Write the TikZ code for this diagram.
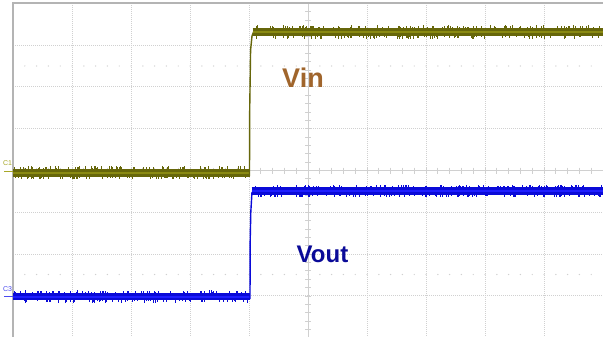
\documentclass[tikz,border=0pt]{standalone}
\usepackage{fontspec}
\setmainfont{Liberation Sans}
\definecolor{gridc}{HTML}{D0D0D0}
\definecolor{bordc}{HTML}{B4B4B4}
\definecolor{vinc}{HTML}{66660A}
\definecolor{vinhi}{HTML}{8A8A12}
\definecolor{voc}{HTML}{0A0AD8}
\definecolor{vohi}{HTML}{1E1EFF}
\definecolor{vinlab}{HTML}{A0652C}
\definecolor{voutlab}{HTML}{0A0A98}
\definecolor{cone}{HTML}{A8A828}
\definecolor{cthree}{HTML}{4A4AF0}
\tikzset{
  gridline/.style={gridc, line width=1pt, dash pattern=on 1pt off 1pt},
  centerline/.style={gridc, line width=0.8pt},
  txtlabel/.style={inner sep=0pt, font=\bfseries\fontsize{#1}{#1}\selectfont},
  chmark/.style={inner sep=0pt, font=\fontsize{7}{7}\selectfont},
  spike/.style={line width=0.5pt}
}
\begin{document}
\begin{tikzpicture}[x=1pt,y=-1pt]
\fill[white] (0,0) rectangle (603,337);
\useasboundingbox (0,0) rectangle (603,337);
\pgfmathsetseed{7}
% dotted grid
\foreach \i in {1,...,9}{
  \draw[gridline] ({13+59*\i},3) -- ({13+59*\i},337);
}
\foreach \j in {1,2,3,5,6,7}{
  \draw[gridline] (13,{3.3+41.8*\j}) -- (603,{3.3+41.8*\j});
}
% center axes with ticks
\draw[centerline] (308,3) -- (308,337);
\draw[centerline] (13,170.5) -- (603,170.5);
\foreach \k in {1,...,49}{
  \draw[centerline] ({13+11.8*\k},167.5) -- ({13+11.8*\k},173.5);
  \fill[gridc] ({13+11.8*\k},66) circle (0.7);
  \fill[gridc] ({13+11.8*\k},274.5) circle (0.7);
}
\foreach \k in {-20,...,20}{
  \draw[centerline] (305,{170.5+8.36*\k}) -- (311,{170.5+8.36*\k});
}
% border
\draw[bordc, line width=1.3pt] (13,337) -- (13,3) -- (603,3);

% Vin trace
\draw[vinc, line width=8pt] (13,172.5) -- (249.5,172.5);
\draw[vinhi, line width=2pt] (13,172.5) -- (249.5,172.5);
\draw[vinc, line width=1.4pt] (249.5,176) -- (249.7,110) -- (250.6,50) -- (252,36) -- (254,31);
\draw[vinc, line width=8.5pt] (252.5,32) -- (603,32);
\draw[vinhi, line width=2pt] (252.5,32) -- (603,32);
\foreach \k in {0,...,70}{
  \pgfmathsetmacro\xx{14+rnd*234}
  \pgfmathsetmacro\ll{0.8+rnd*2.2}
  \draw[vinc, spike] (\xx,176.5) -- (\xx,{176.5+\ll});
  \pgfmathsetmacro\xa{14+rnd*234}
  \pgfmathsetmacro\la{0.8+rnd*1.8}
  \draw[vinc, spike] (\xa,168.5) -- (\xa,{168.5-\la});
}
\foreach \k in {0,...,100}{
  \pgfmathsetmacro\xx{254+rnd*348}
  \pgfmathsetmacro\ll{0.8+rnd*2.2}
  \draw[vinc, spike] (\xx,36.2) -- (\xx,{36.2+\ll});
  \pgfmathsetmacro\xa{254+rnd*348}
  \pgfmathsetmacro\la{0.8+rnd*1.8}
  \draw[vinc, spike] (\xa,27.8) -- (\xa,{27.8-\la});
}

% Vout trace
\draw[voc, line width=7pt] (13,296.5) -- (250,296.5);
\draw[vohi, line width=2pt] (13,296.5) -- (250,296.5);
\draw[voc, line width=1.4pt] (250,299) -- (250.2,240) -- (250.8,212) -- (252,192);
\draw[voc, line width=7.5pt] (251.5,191) -- (603,191);
\draw[vohi, line width=2pt] (251.5,191) -- (603,191);
\foreach \k in {0,...,70}{
  \pgfmathsetmacro\xx{14+rnd*234}
  \pgfmathsetmacro\ll{0.8+rnd*2.2}
  \draw[voc, spike] (\xx,300) -- (\xx,{300+\ll});
  \pgfmathsetmacro\xa{14+rnd*234}
  \pgfmathsetmacro\la{0.8+rnd*1.8}
  \draw[voc, spike] (\xa,293) -- (\xa,{293-\la});
}
\foreach \k in {0,...,100}{
  \pgfmathsetmacro\xx{254+rnd*348}
  \pgfmathsetmacro\ll{0.8+rnd*2}
  \draw[voc, spike] (\xx,194.7) -- (\xx,{194.7+\ll});
  \pgfmathsetmacro\xa{254+rnd*348}
  \pgfmathsetmacro\la{0.8+rnd*1.8}
  \draw[voc, spike] (\xa,187.3) -- (\xa,{187.3-\la});
}

% channel markers
\node[chmark, text=cone] (c1) at (7.5,163.5) {C1};
\coordinate (c1a) at (4,171.5);
\coordinate (c1b) at (13,171.5);
\draw[cone, line width=1.2pt] (c1a) -- (c1b);
\node[chmark, text=cthree] (c3) at (7.5,289.5) {C3};
\coordinate (c3a) at (4,296.5);
\coordinate (c3b) at (13,296.5);
\draw[cthree, line width=1.2pt] (c3a) -- (c3b);

% labels
\node[txtlabel=27, text=vinlab] (vin) at (303,78) {Vin};
\node[txtlabel=24, text=voutlab] (vout) at (322.5,254) {Vout};
\end{tikzpicture}
\end{document}
